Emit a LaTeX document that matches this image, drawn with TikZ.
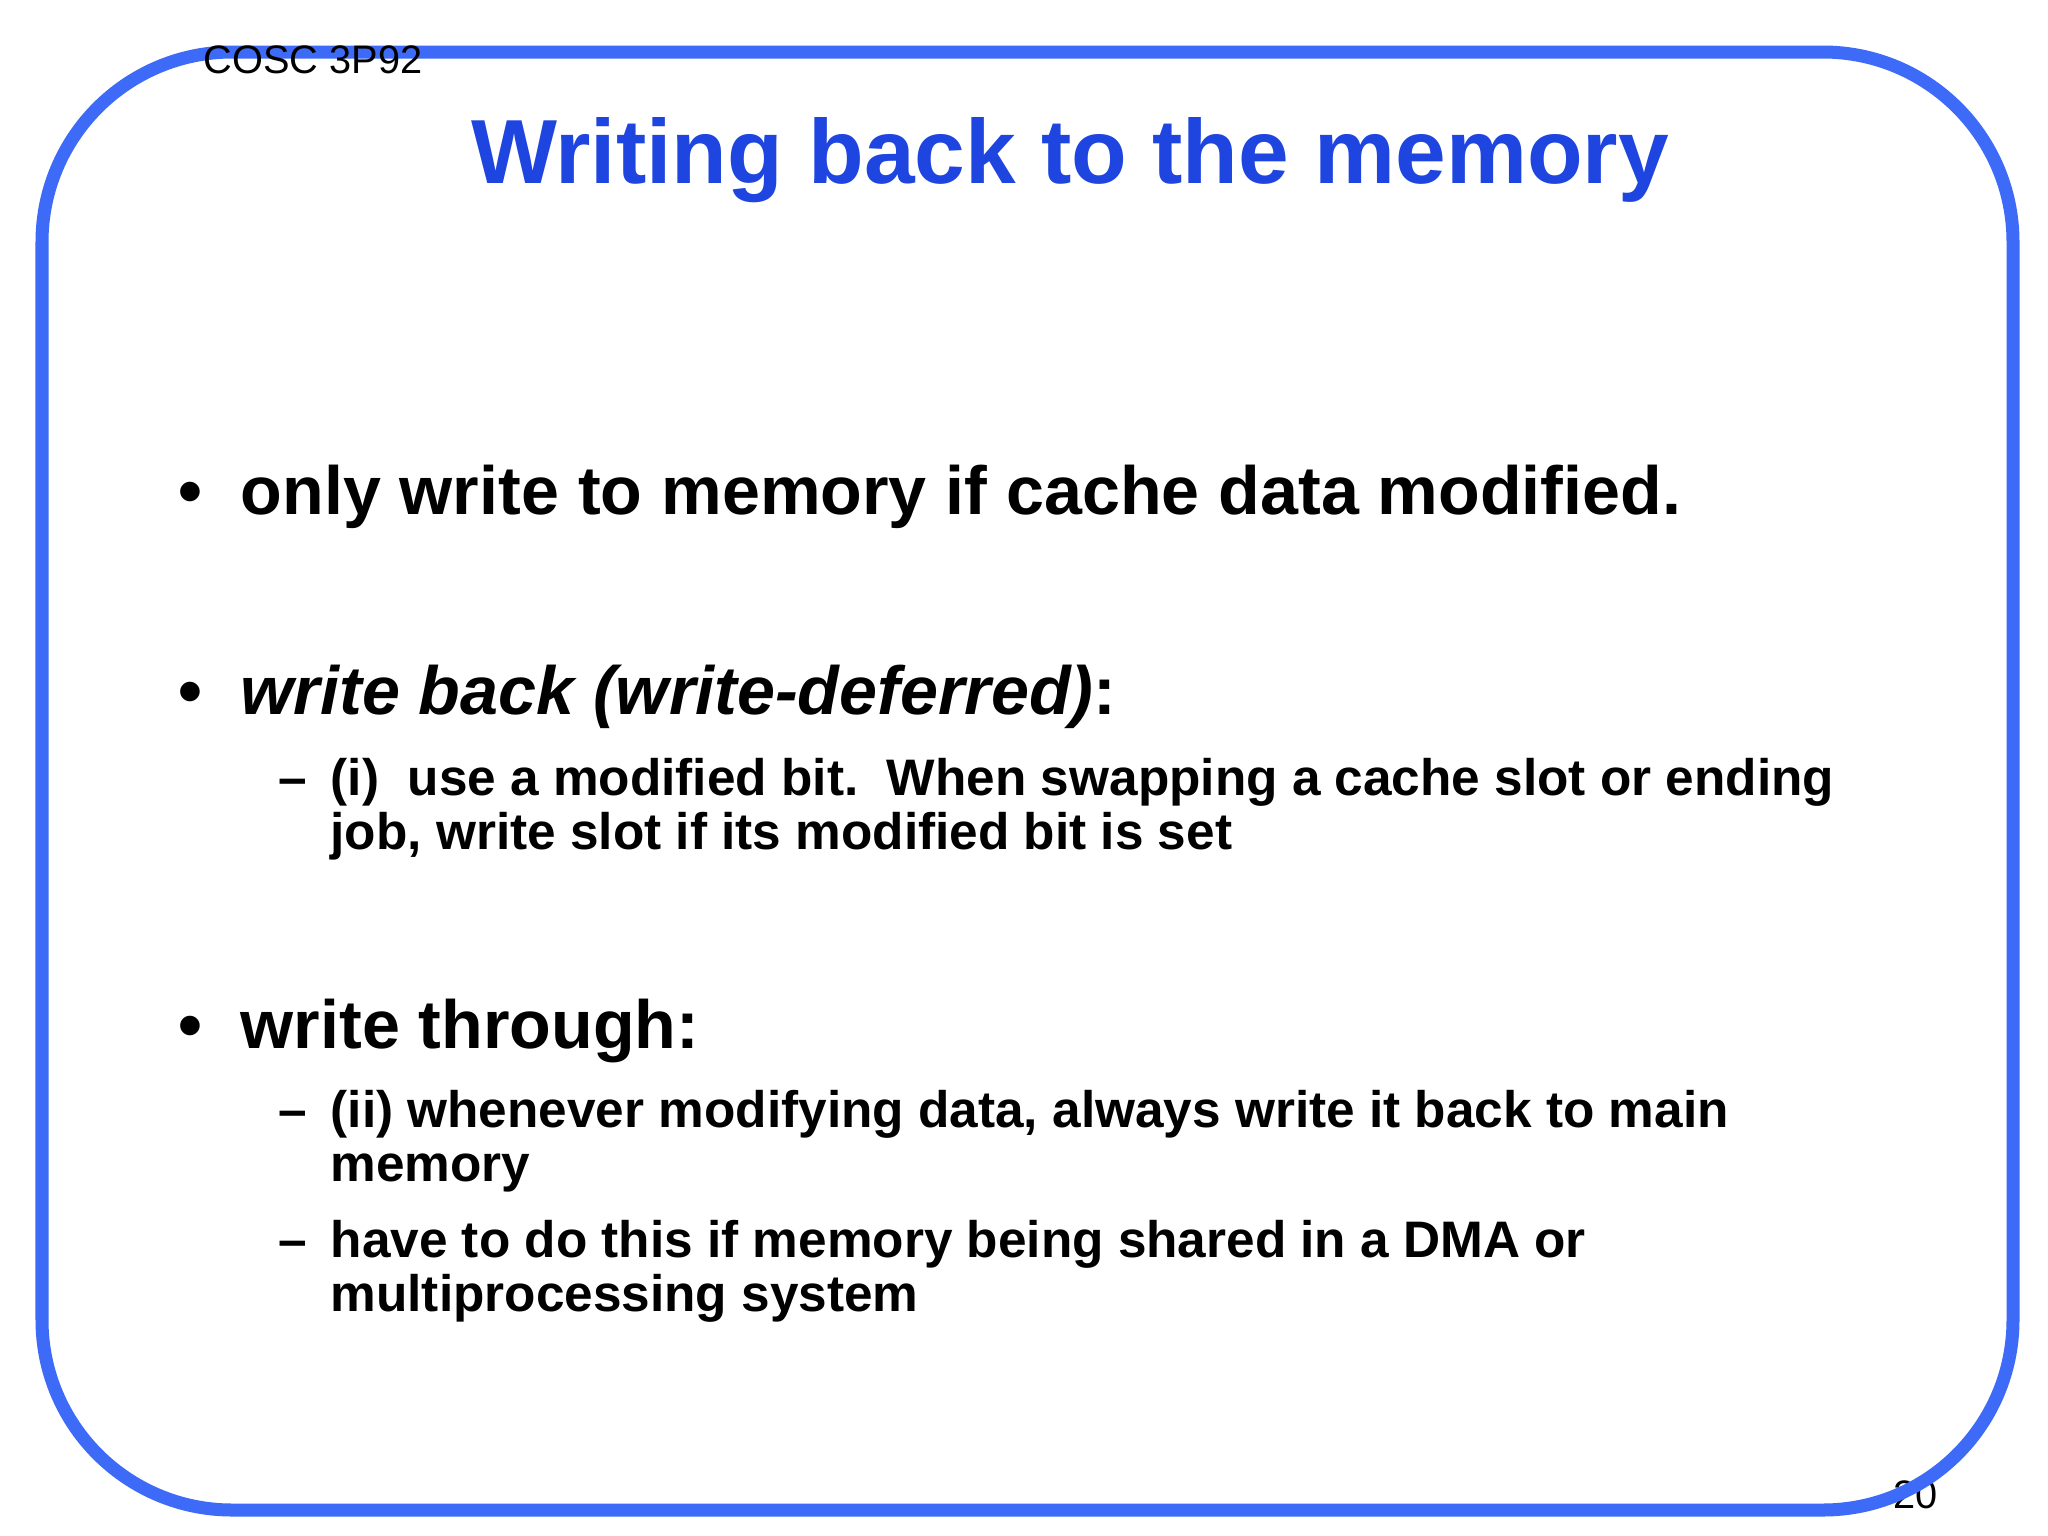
\documentclass[tikz,border=0pt]{standalone}
\usepackage{fontspec}
\setmainfont{Liberation Sans}
\definecolor{framec}{HTML}{3D6BF7}
\definecolor{titlec}{HTML}{1E45E0}
\begin{document}
\begin{tikzpicture}[x=0.01cm,y=-0.01cm,
  l1/.style={anchor=base west,inner sep=0pt,font=\fontsize{19.4}{22}\selectfont\bfseries},
  l2/.style={anchor=base west,inner sep=0pt,font=\fontsize{14.6}{17}\selectfont\bfseries}]
\useasboundingbox (0,0) rectangle (2048,1536);
\fill[white] (0,0) rectangle (2048,1536);
\node[anchor=base west,inner sep=0pt,font=\fontsize{11.3}{13}\selectfont] (num) at (1893,1508) {20};
\draw[framec,line width=0.13cm,rounded corners=1.9cm] (42,52) rectangle (2013,1510);
\node[anchor=base west,inner sep=0pt,font=\fontsize{11.3}{13}\selectfont] (course) at (203,73) {COSC 3P92};
\node[inner sep=0pt,font=\fontsize{25.9}{30}\selectfont\bfseries,text=titlec] (title) at (1070,160) {Writing back to the memory};
\node[l1] (b1) at (178,514) {•};
\node[l1] (t1) at (240,514) {only write to memory if cache data modified.};
\node[l1] (b2) at (178,714) {•};
\node[l1] (t2) at (240,714) {\itshape write back (write-deferred)\upshape:};
\node[l2] (d1) at (278,795) {–};
\node[l2] (s1) at (330,795) {(i)\ \ use a modified bit.\ \ When swapping a cache slot or ending};
\node[l2] (s1b) at (330,849) {job, write slot if its modified bit is set};
\node[l1] (b3) at (178,1048) {•};
\node[l1] (t3) at (240,1048) {write through:};
\node[l2] (d2) at (278,1127) {–};
\node[l2] (s2) at (330,1127) {(ii) whenever modifying data, always write it back to main};
\node[l2] (s2b) at (330,1181) {memory};
\node[l2] (d3) at (278,1257) {–};
\node[l2] (s3) at (330,1257) {have to do this if memory being shared in a DMA or};
\node[l2] (s3b) at (330,1311) {multiprocessing system};
\end{tikzpicture}
\end{document}
